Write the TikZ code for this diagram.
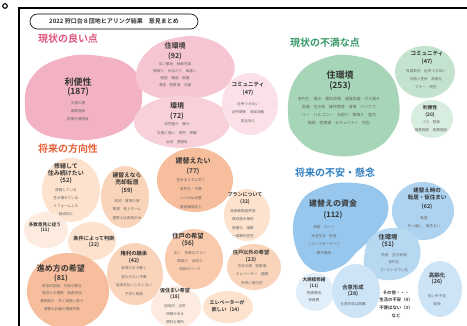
\documentclass[tikz,border=0pt]{standalone}
\usepackage{fontspec}
\newfontfamily\jp{Noto Sans CJK JP}[BoldFont={Noto Sans CJK JP Bold}]
\newcommand\fsz[2]{\fontsize{#1}{#2}\selectfont}
\definecolor{pkA}{HTML}{F2B2C3}
\definecolor{pkB}{HTML}{F5C6D2}
\definecolor{pkC}{HTML}{F7D0DA}
\definecolor{pkD}{HTML}{FBE1E7}
\definecolor{pkH}{HTML}{E0587F}
\definecolor{gnA}{HTML}{A6D5B7}
\definecolor{gnB}{HTML}{C3E3CF}
\definecolor{gnC}{HTML}{D7EDE0}
\definecolor{gnH}{HTML}{3A9A6A}
\definecolor{orA}{HTML}{F6BE9C}
\definecolor{orB}{HTML}{F9CAAB}
\definecolor{orC}{HTML}{FAD4BA}
\definecolor{orD}{HTML}{FDE2CD}
\definecolor{orE}{HTML}{FDEBDF}
\definecolor{orH}{HTML}{E5623A}
\definecolor{blA}{HTML}{97C7EC}
\definecolor{blB}{HTML}{AED3F0}
\definecolor{blC}{HTML}{B6D8F1}
\definecolor{blD}{HTML}{CDE3F6}
\definecolor{blE}{HTML}{E0EEF9}
\definecolor{blH}{HTML}{2F7FC1}
\definecolor{txt}{HTML}{333333}
\definecolor{dtx}{HTML}{666666}
\begin{document}
\begin{tikzpicture}[x=1pt,y=-1pt,
  ttl/.style={inner sep=0pt, text=txt, align=center},
  det/.style={inner sep=0pt, text=dtx, align=center},
  head/.style={inner sep=0pt, font=\jp\bfseries\fsz{10}{11}},
  blob/.style={draw=none}]
\useasboundingbox (0,0) rectangle (467,326);
\fill[white] (0,0) rectangle (467,326);
% ---------------- blobs ----------------
% pink
\fill[pkA] plot[smooth cycle, tension=0.75] coordinates {(25,108) (32,77) (62,58) (100,56) (131,67) (142,92) (134,120) (105,137) (65,139) (35,129)};
\fill[pkB] plot[smooth cycle, tension=0.75] coordinates {(136,78) (147,52) (175,38) (208,39) (231,56) (232,78) (213,94) (180,99) (150,95)};
\fill[pkC] (182,122) ellipse[x radius=48, y radius=26];
\fill[pkD] (250,104) ellipse[x radius=28, y radius=31];
% green
\fill[gnA] plot[smooth cycle, tension=0.75] coordinates {(288,112) (296,78) (322,59) (355,56) (386,70) (399,100) (393,132) (365,153) (325,154) (297,138)};
\fill[gnB] (425,72) ellipse[x radius=30, y radius=26];
\fill[gnC] (432,119) ellipse[x radius=21, y radius=19];
% orange
\fill[orD] (71,190) ellipse[x radius=29, y radius=32];
\fill[orC] (125,197) ellipse[x radius=24, y radius=31];
\fill[orA] (195,180) ellipse[x radius=38, y radius=32];
\fill[orD] (247,215) ellipse[x radius=23, y radius=26];
\fill[orE] (46,230) ellipse[x radius=22, y radius=18];
\fill[orD] (92,241) ellipse[x radius=24, y radius=19];
\fill[orB] (194,259) ellipse[x radius=29, y radius=30];
\fill[orC] (254,267) ellipse[x radius=27, y radius=23];
\fill[orC] (135,274) ellipse[x radius=28, y radius=31];
\fill[orA] (68,291) ellipse[x radius=41, y radius=38];
\fill[orE] (176,307) ellipse[x radius=25, y radius=21];
\fill[orD] (228,307) ellipse[x radius=25, y radius=16];
% blue
\fill[blA] plot[smooth cycle, tension=0.75] coordinates {(294,240) (299,205) (322,187) (355,183) (381,192) (388,212) (376,233) (358,251) (338,268) (311,269)};
\fill[blB] (423,211) ellipse[x radius=31, y radius=29];
\fill[blC] plot[smooth cycle, tension=0.75] coordinates {(364,258) (372,236) (395,228) (415,236) (420,258) (408,275) (385,280) (368,272)};
\fill[blE] (315,292) ellipse[x radius=19, y radius=19];
\fill[blD] (356,291) ellipse[x radius=24, y radius=27];
\fill[blD] (440,289) ellipse[x radius=22, y radius=28];
% ---------------- frame ----------------
\draw[line width=1.6pt] (19,326) -- (19,8) -- (467,8);
\draw[line width=1.1pt] (5,6) circle (2.3);
\node[draw, rounded corners=7.5pt, line width=0.6pt, minimum width=168pt, minimum height=15pt, inner sep=0pt, text=txt, font=\jp\bfseries\fsz{6}{7}] (title) at (114,21.5) {2022 狩口台８団地ヒアリング結果　意見まとめ};
% ---------------- headings ----------------
\node[head, text=pkH] (h1) at (68,39) {現状の良い点};
\node[head, text=gnH] (h2) at (325,43) {現状の不満な点};
\node[head, text=orH] (h3) at (68,149) {将来の方向性};
\node[head, text=blH] (h4) at (335,173) {将来の不安・懸念};
% ---------------- pink texts ----------------
\node[ttl, font=\jp\bfseries\fsz{9}{10}] (p1t) at (78,82) {利便性};
\node[ttl, font=\jp\bfseries\fsz{8.5}{10}] (p1n) at (78,92) {(187)};
\node[det, font=\jp\fsz{3.6}{8}] (p1d) at (78,111) {交通の便\\商業施設\\医療介護施設};
\node[ttl, font=\jp\bfseries\fsz{7}{8}] (p2t) at (175,46) {住環境};
\node[ttl, font=\jp\bfseries\fsz{7}{8}] (p2n) at (175,56) {(92)};
\node[det, font=\jp\fsz{3.6}{7}] (p2d) at (175,74.5) {広い敷地　植栽充実\\間取り　日当たり　風通し\\眺望　構造　設備\\清潔　駐車場　分譲};
\node[ttl, font=\jp\bfseries\fsz{7}{8}] (p3t) at (177,106) {環境};
\node[ttl, font=\jp\bfseries\fsz{7}{8}] (p3n) at (177,116) {(72)};
\node[det, font=\jp\fsz{3.6}{9}] (p3d) at (177,133) {自然豊か　静か\\災害に強い　景色・景観\\治安　雰囲気};
\node[ttl, font=\jp\bfseries\fsz{5.5}{6}] (p4t) at (248,85) {コミュニティ};
\node[ttl, font=\jp\bfseries\fsz{5.5}{6}] (p4n) at (248,93) {(47)};
\node[det, font=\jp\fsz{3.6}{8.5}] (p4d) at (248,112.5) {近所づきあい\\近所関係　地域活動\\安全安心};
% ---------------- green texts ----------------
\node[ttl, font=\jp\bfseries\fsz{9}{10}] (g1t) at (340,75) {住環境};
\node[ttl, font=\jp\bfseries\fsz{8.5}{10}] (g1n) at (340,86) {(253)};
\node[det, font=\jp\fsz{3.9}{8}] (g1d) at (339,111) {老朽化　漏水　電気設備　通信設備　ガス漏れ\\設備　空き家　維持管理　清掃　バリアフ\\リー　バルコニー　水回り　間取り　室内\\階段　駐車場　セキュリティ　防犯};
\node[ttl, font=\jp\bfseries\fsz{5.5}{6}] (g2t) at (427,54) {コミュニティ};
\node[ttl, font=\jp\bfseries\fsz{5.5}{6}] (g2n) at (427,62) {(47)};
\node[det, font=\jp\fsz{3.6}{8}] (g2d) at (426,79) {役員負担　近所づきあい\\外国人住民　高齢化\\マナー　防犯};
\node[ttl, font=\jp\bfseries\fsz{4.8}{5}] (g3t) at (430,108) {利便性};
\node[ttl, font=\jp\bfseries\fsz{4.8}{5}] (g3n) at (430,115) {(20)};
\node[det, font=\jp\fsz{3.6}{8}] (g3d) at (431,126) {バス　駐車\\商業施設　医療施設};
% ---------------- orange texts ----------------
\node[ttl, font=\jp\bfseries\fsz{6}{7.3}] (o1t) at (66,169.5) {修繕して\\住み続けたい};
\node[ttl, font=\jp\bfseries\fsz{6}{7}] (o1n) at (66,181) {(52)};
\node[det, font=\jp\fsz{3.6}{8}] (o1d) at (66,202) {修繕している\\住み慣れている\\リフォームした\\経済的に};
\node[ttl, font=\jp\bfseries\fsz{5.8}{7.5}] (o2t) at (127,179) {建替えなら\\売却転居};
\node[ttl, font=\jp\bfseries\fsz{5.8}{7}] (o2n) at (127,191) {(59)};
\node[det, font=\jp\fsz{3.6}{8.5}] (o2d) at (127,209.5) {売却　賃貸の家\\賃貸　老人ホーム\\建替えは負担が大};
\node[ttl, font=\jp\bfseries\fsz{7}{8}] (o3t) at (193,161) {建替えたい};
\node[ttl, font=\jp\bfseries\fsz{6.5}{8}] (o3n) at (193,171) {(77)};
\node[det, font=\jp\fsz{3.6}{9}] (o3d) at (191,193.5) {住めるうちに早く\\老朽化・不便\\いつかは必要\\資産価値向上};
\node[ttl, font=\jp\bfseries\fsz{5}{6}] (o4t) at (245,195) {プランについて};
\node[ttl, font=\jp\bfseries\fsz{5}{6}] (o4n) at (245,202) {(32)};
\node[det, font=\jp\fsz{3.6}{8.3}] (o4d) at (243,223.5) {高齢者施設併設\\既存樹木保存\\高層化　階数\\一部集約住宅};
\node[ttl, font=\jp\bfseries\fsz{4.6}{5.6}] (o5t) at (45,227.5) {多数意見に従う\\(11)};
\node[ttl, font=\jp\bfseries\fsz{5.2}{6}] (o6t) at (94,239) {条件によって判断};
\node[ttl, font=\jp\bfseries\fsz{5.2}{6}] (o6n) at (94,245) {(22)};
\node[ttl, font=\jp\bfseries\fsz{6.3}{7}] (o7t) at (188,236) {住戸の希望};
\node[ttl, font=\jp\bfseries\fsz{6.3}{7}] (o7n) at (188,244) {(56)};
\node[det, font=\jp\fsz{3.6}{8}] (o7d) at (190,261) {広く　多様なプラン\\間取り　水回り\\収納スペース};
\node[ttl, font=\jp\bfseries\fsz{5.2}{6}] (o8t) at (251,253) {住戸以外の希望};
\node[ttl, font=\jp\bfseries\fsz{5.2}{6}] (o8n) at (251,259.5) {(23)};
\node[det, font=\jp\fsz{3.6}{8.5}] (o8d) at (252,274.5) {交流の場　駐車場\\エレベーター　庭園\\将来に魅力的};
\node[ttl, font=\jp\bfseries\fsz{5.3}{6}] (o9t) at (134,253) {権利の継承};
\node[ttl, font=\jp\bfseries\fsz{5.3}{6}] (o9n) at (134,261) {(42)};
\node[det, font=\jp\fsz{3.6}{8.6}] (o9d) at (134,281) {家族に引き継ぐ\\変わらない予算\\追加支払いしたくない\\子供と相談};
\node[ttl, font=\jp\bfseries\fsz{8}{9}] (o10t) at (61,268) {進め方の希望};
\node[ttl, font=\jp\bfseries\fsz{7}{8}] (o10n) at (61,278) {(81)};
\node[det, font=\jp\fsz{3.6}{7.8}] (o10d) at (62,297.5) {具体的説明　行政の関与\\周辺との連携　若者参加\\事例紹介　早く実施し取り\\建替え計画の情報共有};
\node[ttl, font=\jp\bfseries\fsz{5}{6}] (o11t) at (175,291) {仮住まい希望};
\node[ttl, font=\jp\bfseries\fsz{5}{6}] (o11n) at (175,297) {(18)};
\node[det, font=\jp\fsz{3.6}{8}] (o11d) at (175,314) {団地内　近所\\体験がある\\便利な場所};
\node[ttl, font=\jp\bfseries\fsz{5}{7.8}] (o12t) at (227,306) {エレベーターが\\欲しい（14）};
% ---------------- blue texts ----------------
\node[ttl, font=\jp\bfseries\fsz{8}{9}] (b1t) at (333,203) {建替えの資金};
\node[ttl, font=\jp\bfseries\fsz{7.5}{9}] (b1n) at (333,215) {(112)};
\node[det, font=\jp\fsz{3.6}{8.6}] (b1d) at (324,240) {高齢　ローン\\年金生活　貯金\\リバースモーゲージ\\親子継承};
\node[ttl, font=\jp\bfseries\fsz{5.5}{7.8}] (b2t) at (427,194) {建替え時の\\転居・仮住まい};
\node[ttl, font=\jp\bfseries\fsz{5.5}{6}] (b2n) at (427,207) {(62)};
\node[det, font=\jp\fsz{3.6}{8.5}] (b2d) at (424,222) {転居\\引っ越し　仮住まい};
\node[ttl, font=\jp\bfseries\fsz{6.2}{7}] (b3t) at (388,237) {住環境};
\node[ttl, font=\jp\bfseries\fsz{6.2}{7}] (b3n) at (388,245) {(51)};
\node[det, font=\jp\fsz{3.6}{7.5}] (b3d) at (394,262.5) {防音　空き家増\\老朽化\\ゴーストタウン化};
\node[ttl, font=\jp\bfseries\fsz{4.6}{5.5}] (b4t) at (314,283) {大規模修繕\\(11)};
\node[det, font=\jp\fsz{3.6}{7}] (b4d) at (314,296.5) {修繕費用\\修繕費};
\node[ttl, font=\jp\bfseries\fsz{5.3}{6}] (b5t) at (353,287) {合意形成};
\node[ttl, font=\jp\bfseries\fsz{5.3}{6}] (b5n) at (353,294) {(28)};
\node[det, font=\jp\fsz{3.6}{6}] (b5d) at (353,304) {合意形成は困難};
\node[ttl, font=\jp\bfseries\fsz{4.4}{7.6}] (b7t) at (396,304) {その他・・・\\生活の不安（4）\\不便はない（3）\\など};
\node[ttl, font=\jp\bfseries\fsz{5.5}{6}] (b6t) at (437,275) {高齢化};
\node[ttl, font=\jp\bfseries\fsz{5.5}{6}] (b6n) at (437,282) {(26)};
\node[det, font=\jp\fsz{3.6}{8}] (b6d) at (437,300.5) {担い手不足\\孤独};
\end{tikzpicture}
\end{document}
